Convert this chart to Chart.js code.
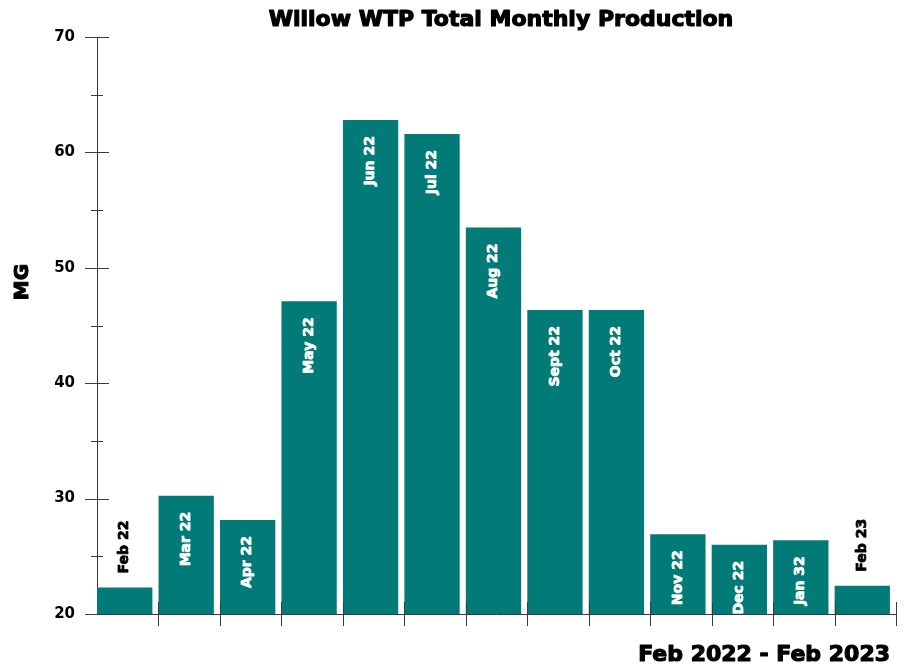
<!DOCTYPE html>
<html lang="en">
<head>
  <meta charset="UTF-8">
  <title>Willow WTP Total Monthly Production</title>
  <script src="https://cdn.jsdelivr.net/npm/chart.js"></script>
  <style>
    html, body { margin: 0; padding: 0; background: #fff; }
    canvas { display: block; }
  </style>
</head>
<body>
  <canvas id="chart" width="913" height="671"></canvas>

  <script>
    const months = ['Feb 22', 'Mar 22', 'Apr 22', 'May 22', 'Jun 22', 'Jul 22', 'Aug 22',
                    'Sept 22', 'Oct 22', 'Nov 22', 'Dec 22', 'Jan 32', 'Feb 23'];
    const production = [22.3, 30.25, 28.15, 47.1, 62.8, 61.6, 53.5, 46.35, 46.35, 26.9, 26.0, 26.4, 22.45];
    // labels that sit above the bar instead of inside it
    const outsideLabels = ['Feb 22', 'Feb 23'];

    const FONT = '"DejaVu Sans", Arial, sans-serif';
    const TEAL = '#027b78';
    const BAR_SHIFT = -3; // bars hug the left boundary of their slot

    // heavy text: fill plus a thin stroke in the same colour
    function heavyText(ctx, text, x, y, color, weight) {
      ctx.fillStyle = color;
      ctx.strokeStyle = color;
      ctx.lineWidth = weight;
      ctx.lineJoin = 'round';
      ctx.strokeText(text, x, y);
      ctx.fillText(text, x, y);
    }

    // axis lines and y ticks under the bars, x ticks over them
    const axes = {
      id: 'axes',
      beforeDatasetsDraw(chart) {
        const { ctx, chartArea: a, scales: { y } } = chart;
        ctx.save();
        ctx.strokeStyle = '#3a3a3a';
        ctx.lineWidth = 1;
        ctx.beginPath();
        ctx.moveTo(a.left + 0.5, a.top);
        ctx.lineTo(a.left + 0.5, a.bottom);
        ctx.moveTo(a.left, a.bottom + 0.5);
        ctx.lineTo(a.right, a.bottom + 0.5);
        for (let v = y.min; v <= y.max; v += 5) {
          const py = Math.round(y.getPixelForValue(v)) + 0.5;
          const half = v % 10 === 0 ? 12 : 6;
          ctx.moveTo(a.left - half, py);
          ctx.lineTo(a.left + half, py);
        }
        ctx.stroke();
        ctx.restore();
        ctx.save();
        ctx.translate(BAR_SHIFT, 0);
      },
      afterDatasetsDraw(chart) {
        const { ctx, chartArea: a, scales: { x } } = chart;
        ctx.restore();
        const step = x.getPixelForValue(1) - x.getPixelForValue(0);
        ctx.save();
        ctx.strokeStyle = '#3a3a3a';
        ctx.lineWidth = 1;
        ctx.beginPath();
        for (let i = 1; i <= months.length; i++) {
          const px = Math.round(x.getPixelForValue(i - 1) + step / 2) + 0.5;
          ctx.moveTo(px, a.bottom - 12);
          ctx.lineTo(px, a.bottom + 12);
        }
        ctx.stroke();
        ctx.restore();
      }
    };

    // titles and the rotated month labels
    const labels = {
      id: 'labels',
      afterDraw(chart) {
        const { ctx, scales: { x, y } } = chart;
        ctx.save();
        ctx.font = 'bold 14px ' + FONT;
        ctx.textBaseline = 'middle';
        months.forEach((m, i) => {
          const px = x.getPixelForValue(i) + BAR_SHIFT;
          const top = y.getPixelForValue(production[i]);
          ctx.save();
          if (outsideLabels.includes(m)) {
            ctx.translate(px, top - 14);
            ctx.rotate(-Math.PI / 2);
            ctx.textAlign = 'left';
            heavyText(ctx, m, 0, 0, '#000', 0.8);
          } else {
            ctx.translate(px, top + 16);
            ctx.rotate(-Math.PI / 2);
            ctx.textAlign = 'right';
            heavyText(ctx, m, 0, 0, '#fff', 0.8);
          }
          ctx.restore();
        });

        ctx.font = 'bold 22px ' + FONT;
        ctx.textAlign = 'center';
        ctx.textBaseline = 'middle';
        heavyText(ctx, 'Willow WTP Total Monthly Production', 501, 20, '#000', 1.2);

        ctx.textAlign = 'right';
        heavyText(ctx, 'Feb 2022 - Feb 2023', 890, 655, '#000', 1.2);

        ctx.translate(23, 282);
        ctx.rotate(-Math.PI / 2);
        ctx.textAlign = 'center';
        ctx.font = 'bold 20px ' + FONT;
        heavyText(ctx, 'MG', 0, 0, '#000', 1.1);
        ctx.restore();
      }
    };

    new Chart(document.getElementById('chart'), {
      type: 'bar',
      data: {
        labels: months,
        datasets: [{
          data: production,
          backgroundColor: TEAL,
          borderWidth: 0,
          barPercentage: 0.9,
          categoryPercentage: 1.0
        }]
      },
      options: {
        responsive: false,
        animation: false,
        layout: { padding: { left: 0, top: 37, right: 17, bottom: 0 } },
        plugins: { legend: { display: false }, tooltip: { enabled: false } },
        scales: {
          x: {
            grid: { display: false },
            border: { display: false },
            ticks: { display: false },
            afterFit(scale) { scale.height = 57; }
          },
          y: {
            min: 20,
            max: 70,
            grid: { display: false, drawTicks: false },
            border: { display: false },
            ticks: {
              stepSize: 5,
              padding: 22,
              color: '#000',
              font: { family: FONT, size: 15, weight: 'bold' },
              callback: v => (v % 10 === 0 ? v : '')
            },
            afterFit(scale) { scale.width = 97; }
          }
        }
      },
      plugins: [axes, labels]
    });
  </script>
</body>
</html>
